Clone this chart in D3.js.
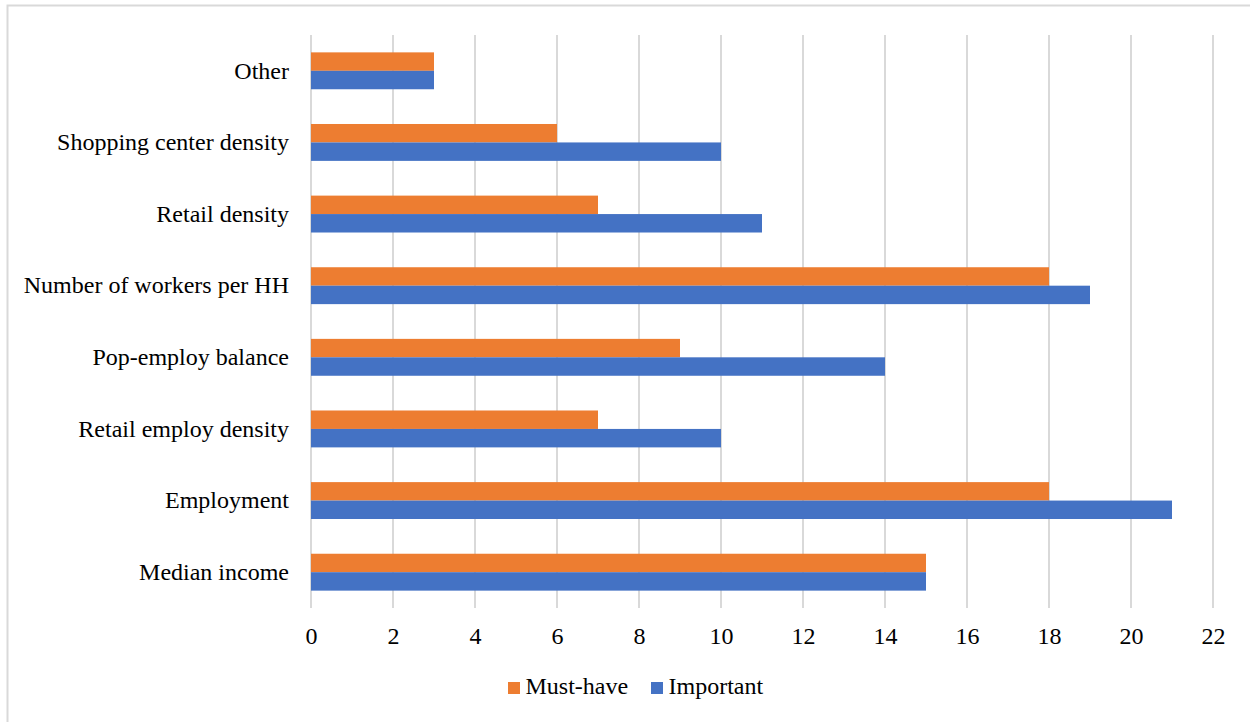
<!DOCTYPE html>
<html>
<head>
<meta charset="utf-8">
<script src="https://cdn.jsdelivr.net/npm/d3@7"></script>
<style>
  html, body { margin: 0; padding: 0; background: #fff; }
  svg { display: block; }
  svg text { font-family: "Liberation Serif", "Times New Roman", Times, serif; fill: #000; font-size: 24px; }
</style>
</head>
<body>
<svg id="chart" width="1250" height="722"></svg>
<script>
// Factors, listed top to bottom
const categories = [
  "Other",
  "Shopping center density",
  "Retail density",
  "Number of workers per HH",
  "Pop-employ balance",
  "Retail employ density",
  "Employment",
  "Median income"
];
const mustHave  = [3, 6, 7, 18, 9, 7, 18, 15];
const important = [3, 10, 11, 19, 14, 10, 21, 15];
const seriesNames = ["Must-have", "Important"];
const seriesColors = ["#ED7D31", "#4472C4"];
const xTicks = [0, 2, 4, 6, 8, 10, 12, 14, 16, 18, 20, 22];

const FONT = '"Liberation Serif", "Times New Roman", Times, serif';
const svg = d3.select("#chart");
const W = 1250, H = 722;
const margin = { left: 311, right: 37, top: 35, bottom: 114 };

// chart frame (left/top edges visible)
svg.append("rect")
  .attr("x", 7.5).attr("y", 5.5)
  .attr("width", W + 20).attr("height", H + 20)
  .attr("fill", "#fff").attr("stroke", "#D9D9D9").attr("stroke-width", 2);

const x = d3.scaleLinear().domain([0, 22]).range([margin.left, W - margin.right]);
const y = d3.scaleBand().domain(categories).range([margin.top, H - margin.bottom]).paddingInner(0.485).paddingOuter(0.2425);
const ySub = d3.scaleBand().domain(seriesNames).range([0, y.bandwidth()]);

// vertical gridlines
svg.append("g").selectAll("line").data(xTicks).join("line")
  .attr("x1", d => x(d)).attr("x2", d => x(d))
  .attr("y1", margin.top).attr("y2", H - margin.bottom)
  .attr("stroke", "#D9D9D9").attr("stroke-width", 2);

// bars
const series = [mustHave, important];
series.forEach((vals, si) => {
  svg.append("g").selectAll("rect").data(categories).join("rect")
    .attr("x", x(0))
    .attr("y", (c) => y(c) + ySub(seriesNames[si]))
    .attr("width", (c, i) => x(vals[i]) - x(0))
    .attr("height", ySub.bandwidth())
    .attr("fill", seriesColors[si]);
});

// category labels
const yAxis = d3.axisLeft(y).tickSize(0).tickPadding(22);
const gy = svg.append("g").attr("transform", `translate(${margin.left},0)`).call(yAxis)
  .attr("font-family", FONT).attr("font-size", 24);
gy.select(".domain").remove();
gy.selectAll("text").attr("fill", "#000");

// value axis labels
const xAxis = d3.axisBottom(x).tickValues(xTicks).tickSize(0).tickPadding(19);
const gx = svg.append("g").attr("transform", `translate(0,${H - margin.bottom})`).call(xAxis)
  .attr("font-family", FONT).attr("font-size", 24);
gx.select(".domain").remove();
gx.selectAll("text").attr("fill", "#000");

// legend
const legend = svg.append("g");
const legendItems = [
  { name: seriesNames[0], color: seriesColors[0], x: 508 },
  { name: seriesNames[1], color: seriesColors[1], x: 651 }
];
legendItems.forEach(it => {
  legend.append("rect").attr("x", it.x).attr("y", 682).attr("width", 12).attr("height", 12).attr("fill", it.color);
  legend.append("text").attr("x", it.x + 17.5).attr("y", 694).text(it.name);
});
</script>
</body>
</html>
